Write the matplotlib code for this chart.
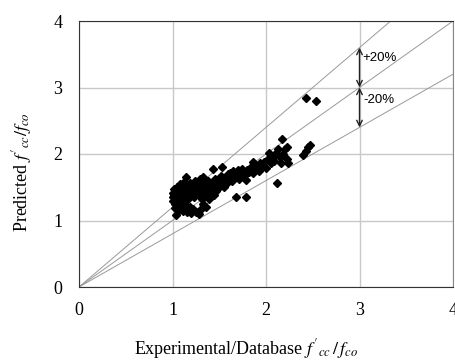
import matplotlib
matplotlib.use("Agg")
import matplotlib.pyplot as plt
import numpy as np

plt.rcParams['mathtext.fontset'] = 'stix'

exp_ratio = [1.00,1.00,1.01,1.02,1.02,1.03,1.03,1.04,1.04,1.05,1.05,1.06,1.06,1.07,1.07,1.08,1.08,1.09,1.09,1.10,1.10,1.11,1.11,
             1.12,1.12,1.13,1.14,1.14,1.15,1.16,1.16,1.17,1.18,1.19,1.19,1.20,1.20,1.21,1.22,1.23,1.24,1.25,
             1.26,1.27,1.28,1.28,1.29,1.30,1.31,1.32,1.33,1.33,1.34,1.35,1.36,1.37,1.38,1.39,1.40,1.40,
             1.42,1.43,1.44,1.45,1.46,1.47,1.48,1.50,1.51,1.52,1.53,1.54,1.55,1.56,1.58,1.59,1.60,
             1.61,1.62,1.64,1.65,1.66,1.68,1.68,1.70,1.71,1.72,1.74,1.75,1.77,1.79,1.79,1.80,1.82,1.84,1.86,1.86,1.88,
             1.90,1.92,1.94,1.96,1.98,2.00,2.02,2.03,2.05,2.07,2.09,2.11,2.12,2.13,2.15,2.16,2.17,2.18,2.20,2.22,2.24,2.22,
             2.40,2.43,2.45,2.47,2.43,2.54]
pred_ratio = [1.42,1.35,1.30,1.47,1.38,1.25,1.19,1.43,1.09,1.33,1.51,1.27,1.40,1.16,1.46,1.35,1.55,1.22,1.30,1.42,1.50,1.14,1.36,
              1.25,1.58,1.45,1.66,1.18,1.38,1.52,1.13,1.33,1.44,1.20,1.56,1.12,1.40,1.49,1.17,1.36,1.60,1.13,
              1.45,1.53,1.10,1.38,1.62,1.17,1.47,1.33,1.66,1.25,1.55,1.40,1.20,1.48,1.60,1.32,1.56,1.42,
              1.50,1.78,1.38,1.63,1.45,1.55,1.48,1.60,1.52,1.67,1.81,1.58,1.50,1.64,1.57,1.70,1.62,
              1.71,1.66,1.60,1.74,1.68,1.36,1.72,1.76,1.62,1.70,1.78,1.74,1.67,1.36,1.61,1.76,1.73,1.80,1.88,1.72,1.77,
              1.82,1.75,1.86,1.80,1.88,1.79,1.93,2.01,1.87,1.95,1.90,2.02,1.57,2.08,1.95,1.87,2.22,2.00,2.07,1.92,1.86,2.10,
              1.98,2.04,2.11,2.13,2.84,2.80]

ref_x = [0, 4]
factors = [1.0, 1.2, 0.8]
ticks = [0, 1, 2, 3, 4]

fig = plt.figure(figsize=(4.55, 3.63), dpi=100)
ax = fig.add_axes([79/455, 76/363, 374/455, 266/363])

ax.set_xlim(0, 4)
ax.set_ylim(0, 4)
ax.set_xticks(ticks)
ax.set_yticks(ticks)
ax.grid(True, color='#c8c8c8', lw=1.0)
ax.set_axisbelow(True)

for f in factors:
    ax.plot(ref_x, [v * f for v in ref_x], color='#999999', lw=0.7, zorder=2)

ax.plot(exp_ratio, pred_ratio, linestyle='none', marker='D', ms=4.2,
        color='black', zorder=3)

ax.annotate('', xy=(3, 3.6), xytext=(3, 3.0),
            arrowprops=dict(arrowstyle='<->', color='#222222', lw=1.0, shrinkA=0, shrinkB=0))
ax.annotate('', xy=(3, 2.4), xytext=(3, 3.0),
            arrowprops=dict(arrowstyle='<->', color='#222222', lw=1.0, shrinkA=0, shrinkB=0))
ax.text(3.03, 3.44, '+20%', fontsize=9.5, family='Liberation Sans', va='center', ha='left')
ax.text(3.04, 2.81, '-20%', fontsize=9.5, family='Liberation Sans', va='center', ha='left')

for s in ['left', 'bottom', 'top']:
    ax.spines[s].set_color('#333333')
ax.spines['right'].set_color('#888888')

ax.tick_params(length=0, labelsize=13)
ax.tick_params(axis='x', pad=11)
ax.tick_params(axis='y', pad=12)
for lab in ax.get_xticklabels() + ax.get_yticklabels():
    lab.set_family('Liberation Serif')

ax.set_xlabel("Experimental/Database $f'_{cc}\\,/\\,f_{co}$", family='Liberation Serif',
              fontsize=13, va='center')
ax.xaxis.set_label_coords(0.447, -0.232)
ax.set_ylabel("Predicted $f'_{cc}/f_{co}$", family='Liberation Serif', fontsize=13, va='center')
ax.yaxis.set_label_coords(-0.152, 0.43)

fig.savefig('out.png', dpi=100)
